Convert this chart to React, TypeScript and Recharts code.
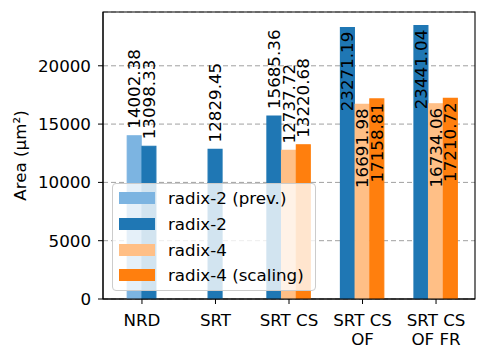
import { BarChart, Bar, XAxis, YAxis, CartesianGrid, Cell, LabelList, Legend, ReferenceArea, Label } from 'recharts'

const categories = ['NRD', 'SRT', 'SRT CS', 'SRT CS\nOF', 'SRT CS\nOF FR']
const seriesNames = ['radix-2 (prev.)', 'radix-2', 'radix-4', 'radix-4 (scaling)']
const seriesColors = ['#7cb4e1', '#1f77b4', '#ffbf86', '#ff7f0e']

const radix2Prev = [14002.38, null, null, null, null]
const radix2 = [13098.33, 12829.45, 15685.36, 23271.19, 23441.04]
const radix4 = [null, null, 12737.72, 16691.98, 16734.06]
const radix4Scaling = [null, null, 13220.68, 17158.81, 17210.72]

const yTicks = [0, 5000, 10000, 15000, 20000]
const xTicks = [0, 1, 2, 3, 4]
const xDomain = [-0.53, 4.53]
const yDomain = [0, 24613]

const FONT = '"DejaVu Sans", sans-serif'
const FS = 16.7
const W = 488
const H = 361
const MARGIN = { top: 12, right: 13, left: 0, bottom: 0 }
const Y_AXIS_W = 103
const X_AXIS_H = 62
const BAR_UNITS = 0.2

const allSeries = [radix2Prev, radix2, radix4, radix4Scaling]

// one row per visible bar, bars of a category centred on its tick
const rows: { pos: number; value: number; series: number }[] = []
categories.forEach((_, ci) => {
  const present = allSeries.map((s, si) => (s[ci] != null ? si : -1)).filter((si) => si >= 0)
  present.forEach((si, k) => {
    rows.push({ pos: ci + (k - (present.length - 1) / 2) * BAR_UNITS, value: allSeries[si][ci] as number, series: si })
  })
})

function CategoryTick(props: any) {
  const { x, y, payload } = props
  const lines = categories[payload.value].split('\n')
  return (
    <text x={x} y={y} textAnchor="middle" fontSize={FS} fontFamily={FONT} fill="#000">
      {lines.map((l, i) => (
        <tspan key={i} x={x} dy={i === 0 ? '0.71em' : '1.16em'}>{l}</tspan>
      ))}
    </text>
  )
}

function ValueLabel(props: any) {
  const { x, y, width, value } = props
  const cx = x + width / 2
  const inside = value > 16000
  const ay = inside ? y + 4 : y - 7
  return (
    <text
      x={cx}
      y={ay}
      transform={`rotate(-90 ${cx} ${ay})`}
      textAnchor={inside ? 'end' : 'start'}
      dominantBaseline="central"
      fontSize={FS}
      fontFamily={FONT}
      fill="#000"
    >
      {value.toFixed(2)}
    </text>
  )
}

function LegendBox() {
  return (
    <div
      style={{
        boxSizing: 'border-box',
        width: 204,
        height: 108,
        background: 'rgba(255,255,255,0.8)',
        border: '1px solid #cccccc',
        borderRadius: 4,
        paddingTop: 1.5,
        fontFamily: FONT,
        fontSize: FS,
      }}
    >
      {seriesNames.map((name, i) => (
        <div key={name} style={{ height: 25.7, display: 'flex', alignItems: 'center' }}>
          <div style={{ width: 36, height: 12, marginLeft: 6, background: seriesColors[i] }} />
          <span style={{ marginLeft: 13, whiteSpace: 'nowrap', color: '#000' }}>{name}</span>
        </div>
      ))}
    </div>
  )
}

export default function App() {
  return (
    <div style={{ position: 'absolute', left: 0, top: 0 }}>
      <BarChart width={W} height={H} data={rows} margin={MARGIN}>
        <CartesianGrid vertical={false} stroke="#a0a0a0" strokeDasharray="5 3" strokeWidth={1} />
        <XAxis
          type="number"
          dataKey="pos"
          domain={xDomain}
          ticks={xTicks}
          allowDataOverflow
          height={X_AXIS_H}
          tick={<CategoryTick />}
          tickSize={5}
          tickMargin={10}
          stroke="#000"
          interval={0}
        />
        <YAxis
          width={Y_AXIS_W}
          domain={yDomain}
          ticks={yTicks}
          allowDataOverflow
          tick={{ fontSize: FS, fontFamily: FONT, fill: '#000' }}
          tickSize={5}
          tickMargin={7}
          stroke="#000"
        >
          <Label
            content={(p: any) => {
              const vb = p.viewBox || { x: 0, y: 0, height: 0 }
              const lx = vb.x + 20
              const ly = vb.y + vb.height / 2
              return (
                <text
                  x={lx}
                  y={ly}
                  transform={`rotate(-90 ${lx} ${ly})`}
                  textAnchor="middle"
                  dominantBaseline="central"
                  fontSize={FS}
                  fontFamily={FONT}
                  fill="#000"
                >
                  Area (µm²)
                </text>
              )
            }}
          />
        </YAxis>
        <Bar dataKey="value" barSize={13.9} isAnimationActive={false}>
          {rows.map((r, i) => (
            // same-colour stroke closes the small gap recharts leaves on a number axis
            <Cell key={i} fill={seriesColors[r.series]} stroke={seriesColors[r.series]} strokeWidth={1.2} />
          ))}
          <LabelList dataKey="value" content={<ValueLabel />} />
        </Bar>
        <ReferenceArea
          x1={xDomain[0]}
          x2={xDomain[1]}
          y1={yDomain[0]}
          y2={yDomain[1]}
          fill="none"
          stroke="#000"
          strokeWidth={1.1}
          ifOverflow="visible"
        />
        <Legend
          layout="vertical"
          align="center"
          verticalAlign="middle"
          content={<LegendBox />}
          wrapperStyle={{ left: 112, top: 183, width: 204, height: 108 }}
        />
      </BarChart>
    </div>
  )
}
